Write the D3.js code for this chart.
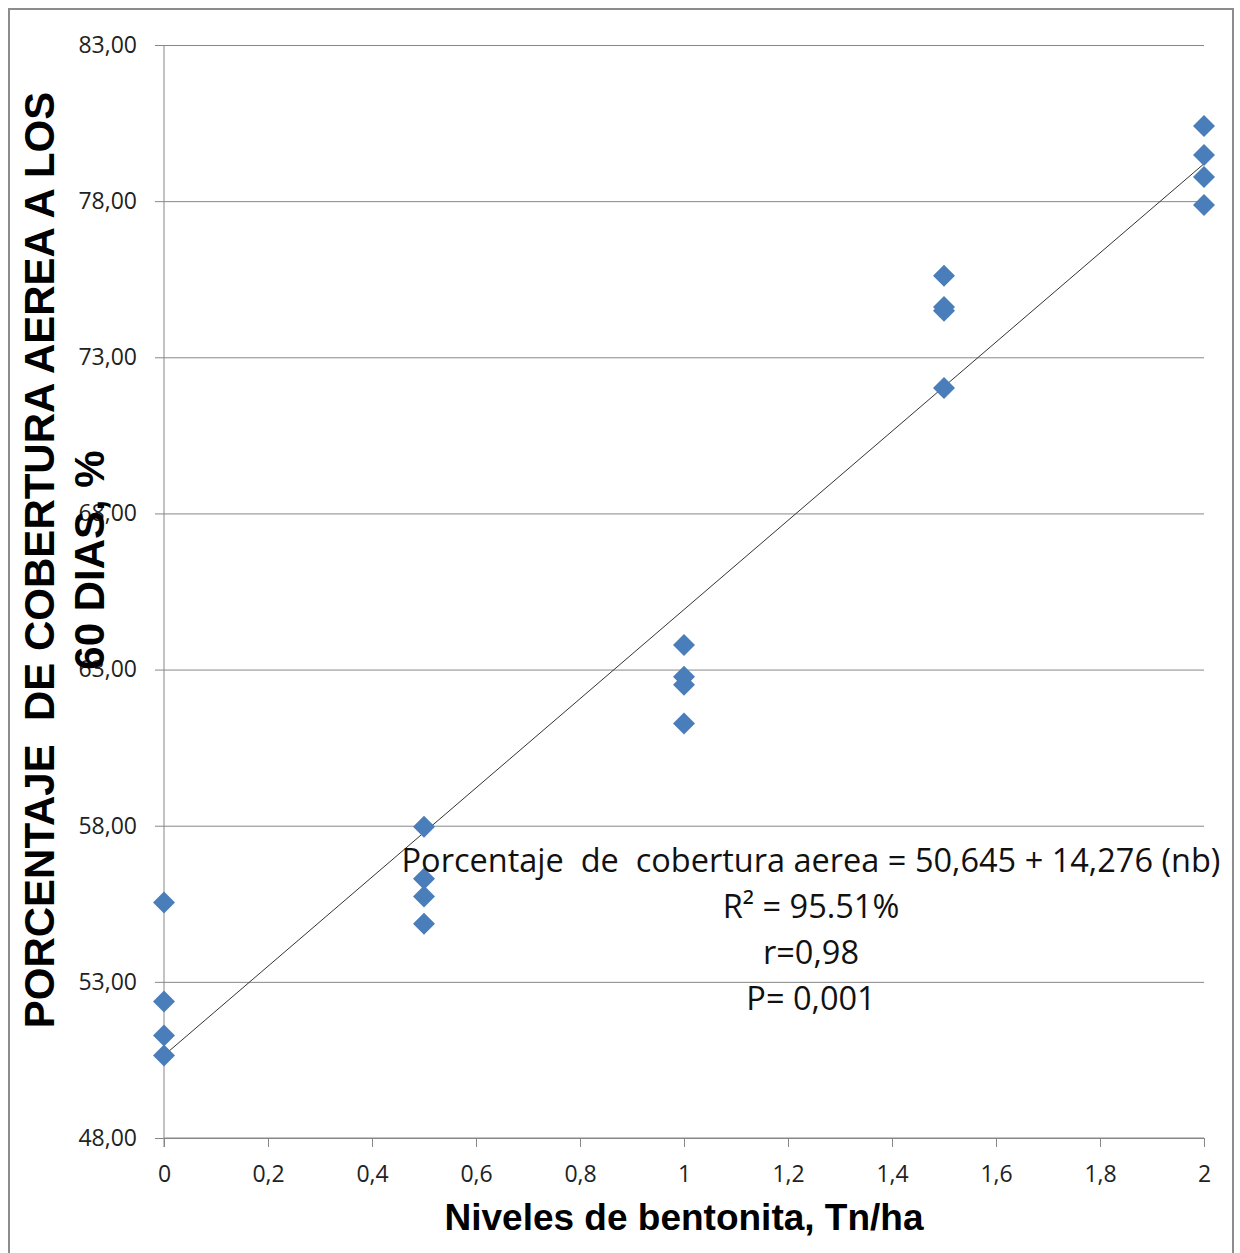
<!DOCTYPE html>
<html>
<head>
<meta charset="utf-8">
<script src="https://cdn.jsdelivr.net/npm/d3@7"></script>
<style>
  body { margin: 0; background: #fff; }
  svg { display: block; }
</style>
</head>
<body>
<script>
// niveles de bentonita (Tn/ha) y % de cobertura, 4 repeticiones por nivel
var niveles = [0, 0, 0, 0, 0.5, 0.5, 0.5, 0.5, 1, 1, 1, 1, 1.5, 1.5, 1.5, 1.5, 2, 2, 2, 2];
var cobertura = [55.54, 52.37, 51.28, 50.64,
                 57.97, 56.30, 55.73, 54.86,
                 63.79, 62.77, 62.51, 61.27,
                 75.61, 74.61, 74.49, 72.02,
                 80.41, 79.48, 78.77, 77.88];
var yTicks = [48, 53, 58, 63, 68, 73, 78, 83];
var xTicks = [0, 0.2, 0.4, 0.6, 0.8, 1, 1.2, 1.4, 1.6, 1.8, 2];
var intercepto = 50.645, pendiente = 14.276;
var anotacion = ["Porcentaje  de  cobertura aerea = 50,645 + 14,276 (nb)",
                 "R\u00b2 = 95.51%", "r=0,98", "P= 0,001"];

var width = 1240, height = 1253;
var svg = d3.select("body").append("svg")
        .attr("width", width)
        .attr("height", height);

// marco
svg.append("path")
        .attr("d", "M9," + height + "V9H1233V" + height)
        .attr("fill", "none")
        .attr("stroke", "#8c8c8c")
        .attr("stroke-width", 2);

var x = d3.scaleLinear().domain([0, 2]).range([164, 1204]);
var y = d3.scaleLinear().domain([48, 83]).range([1138, 45]);
var coma = function (v, dec) { return d3.format(dec)(v).replace(".", ","); };

// eje y con lineas de cuadricula
var yAxis = svg.append("g")
        .attr("transform", "translate(" + x(0) + ",0)")
        .call(d3.axisLeft(y).tickValues(yTicks)
                .tickSize(-(x(2) - x(0)))
                .tickPadding(27)
                .tickFormat(function (d) { return coma(d, ".2f"); }));
yAxis.select(".domain").remove();
yAxis.selectAll("line").attr("stroke", "#878787").attr("x1", -9);
yAxis.selectAll("text")
        .attr("font-family", "Open Sans")
        .attr("font-size", 23)
        .attr("fill", "#222");
svg.append("line")
        .attr("x1", x(0)).attr("x2", x(0))
        .attr("y1", y(83)).attr("y2", y(48) + 9)
        .attr("stroke", "#878787");

// eje x
var xAxis = svg.append("g")
        .attr("transform", "translate(0," + y(48) + ")")
        .call(d3.axisBottom(x).tickValues(xTicks)
                .tickSize(9)
                .tickPadding(19)
                .tickFormat(function (d) { return coma(d, "~g"); }));
xAxis.select(".domain").attr("stroke", "#878787").attr("d", "M" + x(0) + ",0H" + x(2));
xAxis.selectAll("line").attr("stroke", "#878787");
xAxis.selectAll("text")
        .attr("font-family", "Open Sans")
        .attr("font-size", 23)
        .attr("fill", "#222");

// linea de regresion
svg.append("line")
        .attr("x1", x(0)).attr("y1", y(intercepto))
        .attr("x2", x(2)).attr("y2", y(intercepto + pendiente * 2))
        .attr("stroke", "#333")
        .attr("stroke-width", 1);

// puntos
svg.append("g").selectAll("path")
        .data(d3.range(niveles.length))
        .enter()
        .append("path")
        .attr("d", "M0,-11L11,0L0,11L-11,0Z")
        .attr("transform", function (i) {
            return "translate(" + x(niveles[i]) + "," + y(cobertura[i]) + ")";
        })
        .attr("fill", "#4a7ebb");

// anotacion
svg.append("g").selectAll("text")
        .data(anotacion)
        .enter()
        .append("text")
        .attr("x", 811)
        .attr("y", function (d, i) { return 872 + i * 46; })
        .attr("text-anchor", "middle")
        .attr("font-family", "Open Sans")
        .attr("font-size", 32.5)
        .attr("fill", "#111")
        .style("white-space", "pre")
        .text(function (d) { return d; });

// titulos de ejes
svg.append("text")
        .attr("x", x(1)).attr("y", 1230)
        .attr("text-anchor", "middle")
        .attr("font-family", "Liberation Sans")
        .attr("font-weight", "bold")
        .attr("font-size", 37)
        .text("Niveles de bentonita, Tn/ha");

var yTitle = svg.append("text")
        .attr("transform", "translate(54,560) rotate(-90)")
        .attr("text-anchor", "middle")
        .attr("font-family", "Liberation Sans")
        .attr("font-weight", "bold")
        .attr("font-size", 42)
        .style("white-space", "pre");
yTitle.append("tspan").attr("x", 0).attr("dy", 0)
        .text("PORCENTAJE  DE COBERTURA AEREA A LOS");
yTitle.append("tspan").attr("x", 0).attr("dy", 50).text("60 DIAS, %");
</script>
</body>
</html>
